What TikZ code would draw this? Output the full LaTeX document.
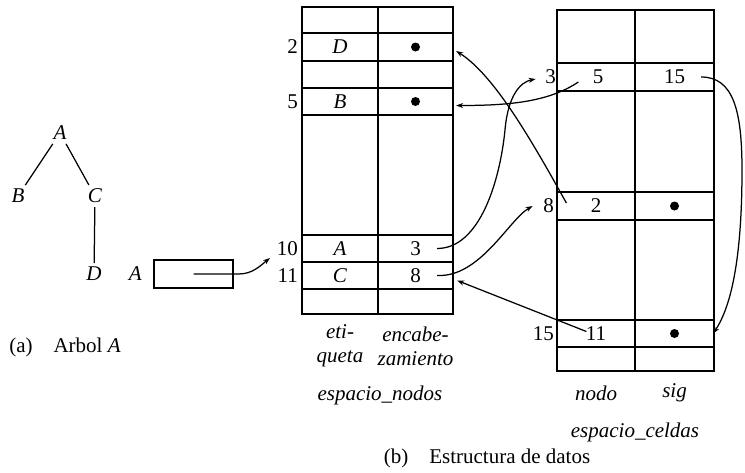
\documentclass[tikz,border=0pt]{standalone}
\usepackage{fontspec}
\setmainfont{Liberation Serif}
\usetikzlibrary{arrows.meta,positioning}

\begin{document}
\begin{tikzpicture}[
  x=1pt,y=-1pt,
  font=\fontsize{21}{24}\selectfont,
  line width=1.25pt,
  tab/.style={line width=1.4pt},
  cell/.style={minimum width=74pt,minimum height=26pt,inner sep=0pt},
  dotcell/.style={cell,path picture={\fill (path picture bounding box.center) circle (4.5pt);}},
  lbl/.style={inner sep=0pt},
  arr/.style={-{Stealth[length=7pt,width=5pt]}}
]
\useasboundingbox (0,0) rectangle (745,472);

% arbol
\node (tA) at (60,133) {\textit{A}};
\node (tB) at (18,196) {\textit{B}};
\node (tC) at (95,196) {\textit{C}};
\node (tD) at (94,274) {\textit{D}};
\draw (tA) -- (tB);
\draw (tA) -- (tC);
\draw (tC) -- (tD);
\node[draw,tab,minimum width=79pt,minimum height=28pt] (ptr) at (193.5,274) {};
\node[lbl,left=11pt of ptr] (ptrA) {\textit{A}};
\node (capa) at (65,347) {(a)\quad Arbol \textit{A}};

% espacio_nodos
\draw[tab] (302,7) rectangle (453,314);
\draw[tab] (378,7) -- (378,314);
\foreach \y in {33,61,88,115,235,262,289}
  \draw[tab] (302,\y) -- (453,\y);
\node[cell] (n2e) at (340,47) {\textit{D}};
\node[dotcell] (n2v) at (415.5,47) {};
\node[cell] (n5e) at (340,101.5) {\textit{B}};
\node[dotcell] (n5v) at (415.5,101.5) {};
\node[cell] (n10e) at (340,248.5) {\textit{A}};
\node[cell] (n10v) at (415.5,248.5) {3};
\node[cell] (n11e) at (340,275.5) {\textit{C}};
\node[cell] (n11v) at (415.5,275.5) {8};
\node[lbl,left=4pt of n2e] (r2) {2};
\node[lbl,left=4pt of n5e] (r5) {5};
\node[lbl,left=4pt of n10e] (r10) {10};
\node[lbl,left=4pt of n11e] (r11) {11};

% espacio_celdas
\draw[tab] (557,10) rectangle (714,371);
\draw[tab] (635,10) -- (635,371);
\foreach \y in {63,91,192,220,320,347}
  \draw[tab] (557,\y) -- (714,\y);
\node[cell] (c3n) at (598,77) {5};
\node[cell] (c3s) at (674.5,77) {15};
\node[cell] (c8n) at (596,206) {2};
\node[dotcell] (c8s) at (674.5,206) {};
\node[cell] (c15n) at (596,333.5) {11};
\node[dotcell] (c15s) at (674.5,333.5) {};
\node[lbl,left=4pt of c3n] (r3) {3};
\node[lbl,left=4pt of c8n] (r8) {8};
\node[lbl,left=4pt of c15n] (r15) {15};

% rotulos
\node[align=center] (etq) at (340,346) {\textit{eti-}\\\textit{queta}};
\node[align=center] (enc) at (415.5,346) {\textit{encabe-}\\\textit{zamiento}};
\node (espn) at (380,395) {\textit{espacio\_nodos}};
\node (nodo) at (596,393) {\textit{nodo}};
\node (sig) at (674.5,393) {\textit{sig}};
\node (espc) at (635,432) {\textit{espacio\_celdas}};
\node (capb) at (487,458) {(b)\quad Estructura de datos};

% punteros
\coordinate (ptrtip) at (270,258);
\draw[arr] (ptr.center) -- ++(45,0) .. controls +(14,0) and +(-10,8) .. (ptrtip);
\draw[arr] ([xshift=-16pt]n10v.east) .. controls +(43,0) and +(-5,50) .. (505,130)
  .. controls +(3,-35) and +(-15,3) .. ([xshift=-9pt,yshift=-2pt]r3.west);
\draw[arr] ([xshift=-16pt]n11v.east) .. controls +(43,2) and +(-24,14) .. ([xshift=-10pt]r8.west);
\draw[arr] ([xshift=8pt,yshift=3pt]c8n.west) .. controls +(-35,-63) and +(38,24) .. ([xshift=3pt,yshift=-4pt]n2v.east);
\draw[arr] ([xshift=18pt,yshift=-5pt]c3n.west) .. controls +(-30,20) and +(53,0) .. ([xshift=3pt,yshift=-4pt]n5v.east);
\draw[arr] ([xshift=28pt,yshift=2pt]c15n.west) -- ([xshift=4pt,yshift=-5pt]n11v.east);
\draw[arr] ([xshift=-11pt]c3s.east) .. controls +(32,0) and +(0,-60) .. (742,170)
  .. controls +(0,80) and +(20,-30) .. ([xshift=1pt]c15s.east);
\end{tikzpicture}
\end{document}
